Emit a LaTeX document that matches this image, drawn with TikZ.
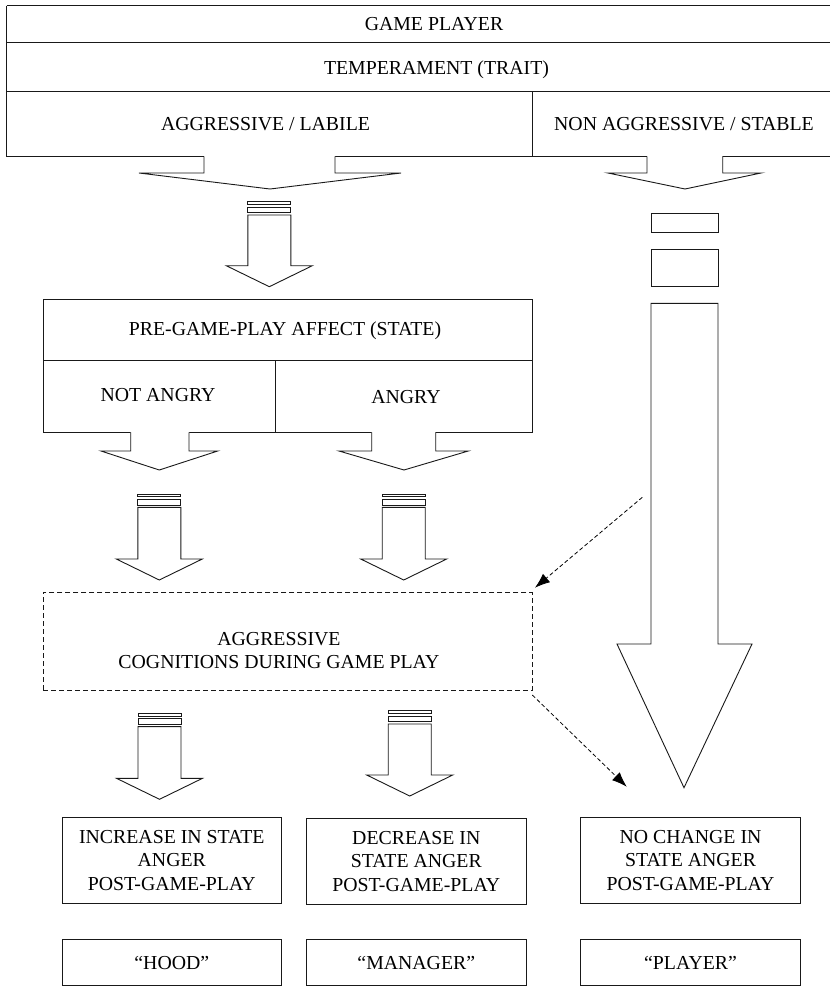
\documentclass[tikz,border=0pt]{standalone}
\usepackage{fontspec}
\setmainfont{Liberation Serif}
\usetikzlibrary{arrows.meta}
\newcommand{\stripedarrow}[3]{%
  \draw[outline] ({#1-21.5},#2) rectangle ({#1+21.5},{#2+2.7});
  \draw[outline] ({#1-21.5},{#2+5.5}) rectangle ({#1+21.5},{#2+11});
  \draw[outline] ({#1-21.5},{#2+13.3}) -- ({#1-21.5},#3) -- ({#1-43},#3) -- (#1,{#3+21}) -- ({#1+43},#3) -- ({#1+21.5},#3) -- ({#1+21.5},{#2+13.3}) -- cycle;
}
\newcommand{\chevarrow}[8]{%
  \fill[white] (#1,{#3-1.5}) -- (#1,#4) -- (#5,#4) -- (#7,#8) -- (#6,#4) -- (#2,#4) -- (#2,{#3-1.5}) -- cycle;
  \draw[outline] (#1,{#3-0.45}) -- (#1,#4) -- (#5,#4) -- (#7,#8) -- (#6,#4) -- (#2,#4) -- (#2,{#3-0.45});
}
\begin{document}
\begin{tikzpicture}[x=1pt,y=-1pt,
  outline/.style={draw=black!90, line width=0.9pt, line join=miter},
  lbl/.style={font=\fontsize{19.8}{23.5}\selectfont, inner sep=0pt, align=center, text=black},
  boxnode/.style={lbl, outline, minimum height=85.3pt},
  tagnode/.style={lbl, outline, minimum height=46.4pt},
  dashbox/.style={outline, dash pattern=on 5pt off 3pt, line width=0.8pt},
  dasharrow/.style={draw=black, line width=0.8pt, dash pattern=on 4pt off 2.5pt, -{Latex[length=15pt,width=11pt]}}]
\path[use as bounding box] (0,0) rectangle (830,986);
\clip (0,0) rectangle (830,986);
\fill[white] (0,0) rectangle (830,986);

% top box
\draw[outline] (6.7,5.7) -- (840,5.7);
\draw[outline] (6.7,42.5) -- (840,42.5);
\draw[outline] (6.7,91) -- (840,91);
\draw[outline] (6.7,156.7) -- (840,156.7);
\draw[outline] (6.7,5.7) -- (6.7,156.7);
\draw[outline] (532.3,91) -- (532.3,156.7);
\node[lbl, anchor=base] (gp) at (434,30.3) {GAME PLAYER};
\node[lbl, anchor=base] (temp) at (436.5,74) {TEMPERAMENT (TRAIT)};
\node[lbl, anchor=base] (agg) at (265.5,130.7) {AGGRESSIVE / LABILE};
\node[lbl, anchor=base] (nonagg) at (684,130.7) {NON AGGRESSIVE / STABLE};

% pre-game box
\draw[outline] (43.3,299.3) rectangle (532.7,432.7);
\draw[outline] (43.3,360) -- (532.7,360);
\draw[outline] (275.3,360) -- (275.3,432.7);
\node[lbl, anchor=base] (pre) at (285,335) {PRE-GAME-PLAY AFFECT (STATE)};
\node[lbl, anchor=base] (notangry) at (158,401) {NOT ANGRY};
\node[lbl, anchor=base] (angry) at (406,403.3) {ANGRY};

% chevron arrows
\chevarrow{204}{335}{156.7}{173}{139}{401}{270}{189}
\chevarrow{647}{722.7}{156.7}{173}{608}{761}{685}{189}
\chevarrow{130.7}{189}{432.7}{451}{101}{217.7}{159.3}{470}
\chevarrow{371.7}{435.7}{432.7}{451}{339}{468.3}{404}{470}

% striped arrows
\stripedarrow{269.3}{201.7}{265.7}
\stripedarrow{159.3}{494}{559}
\stripedarrow{403.7}{494}{559}
\stripedarrow{159.5}{713.3}{778.3}
\stripedarrow{409.7}{710.7}{775}

% right long arrow
\draw[outline] (651,213) rectangle (718,232);
\draw[outline] (651,249) rectangle (718,286);
\draw[outline] (651,303.3) -- (651,644) -- (617,644) -- (684,787.7) -- (752,644) -- (718,644) -- (718,303.3) -- cycle;

% dashed cognition box
\node[dashbox, draw, minimum width=488.7pt, minimum height=97.7pt, inner sep=0pt] (cogbox) at (287.7,641.2) {};
\node[lbl] (cogtext) at (279,650.3) {AGGRESSIVE\\COGNITIONS DURING GAME PLAY};

% dashed arrows
\coordinate (d1s) at (642.3,497.3);
\coordinate (d1e) at (535,587.7);
\coordinate (d2s) at (532.3,695);
\coordinate (d2e) at (626.7,786.7);
\draw[dasharrow] (d1s) -- (d1e);
\draw[dasharrow] (d2s) -- (d2e);

% outcome boxes
\node[boxnode, minimum width=219.6pt] (inc) at (171.8,860.3) {INCREASE IN STATE\\ANGER\\POST-GAME-PLAY};
\node[boxnode, minimum width=220.7pt] (dec) at (416.3,861.3) {DECREASE IN\\STATE ANGER\\POST-GAME-PLAY};
\node[boxnode, minimum width=219.7pt] (noch) at (690.5,860.3) {NO CHANGE IN\\STATE ANGER\\POST-GAME-PLAY};

% type labels
\node[tagnode, minimum width=219.6pt] (hood) at (171.8,962.5) {“HOOD”};
\node[tagnode, minimum width=220.7pt] (manager) at (416.3,962.5) {“MANAGER”};
\node[tagnode, minimum width=219.7pt] (player) at (690.5,962.5) {“PLAYER”};
\end{tikzpicture}
\end{document}
